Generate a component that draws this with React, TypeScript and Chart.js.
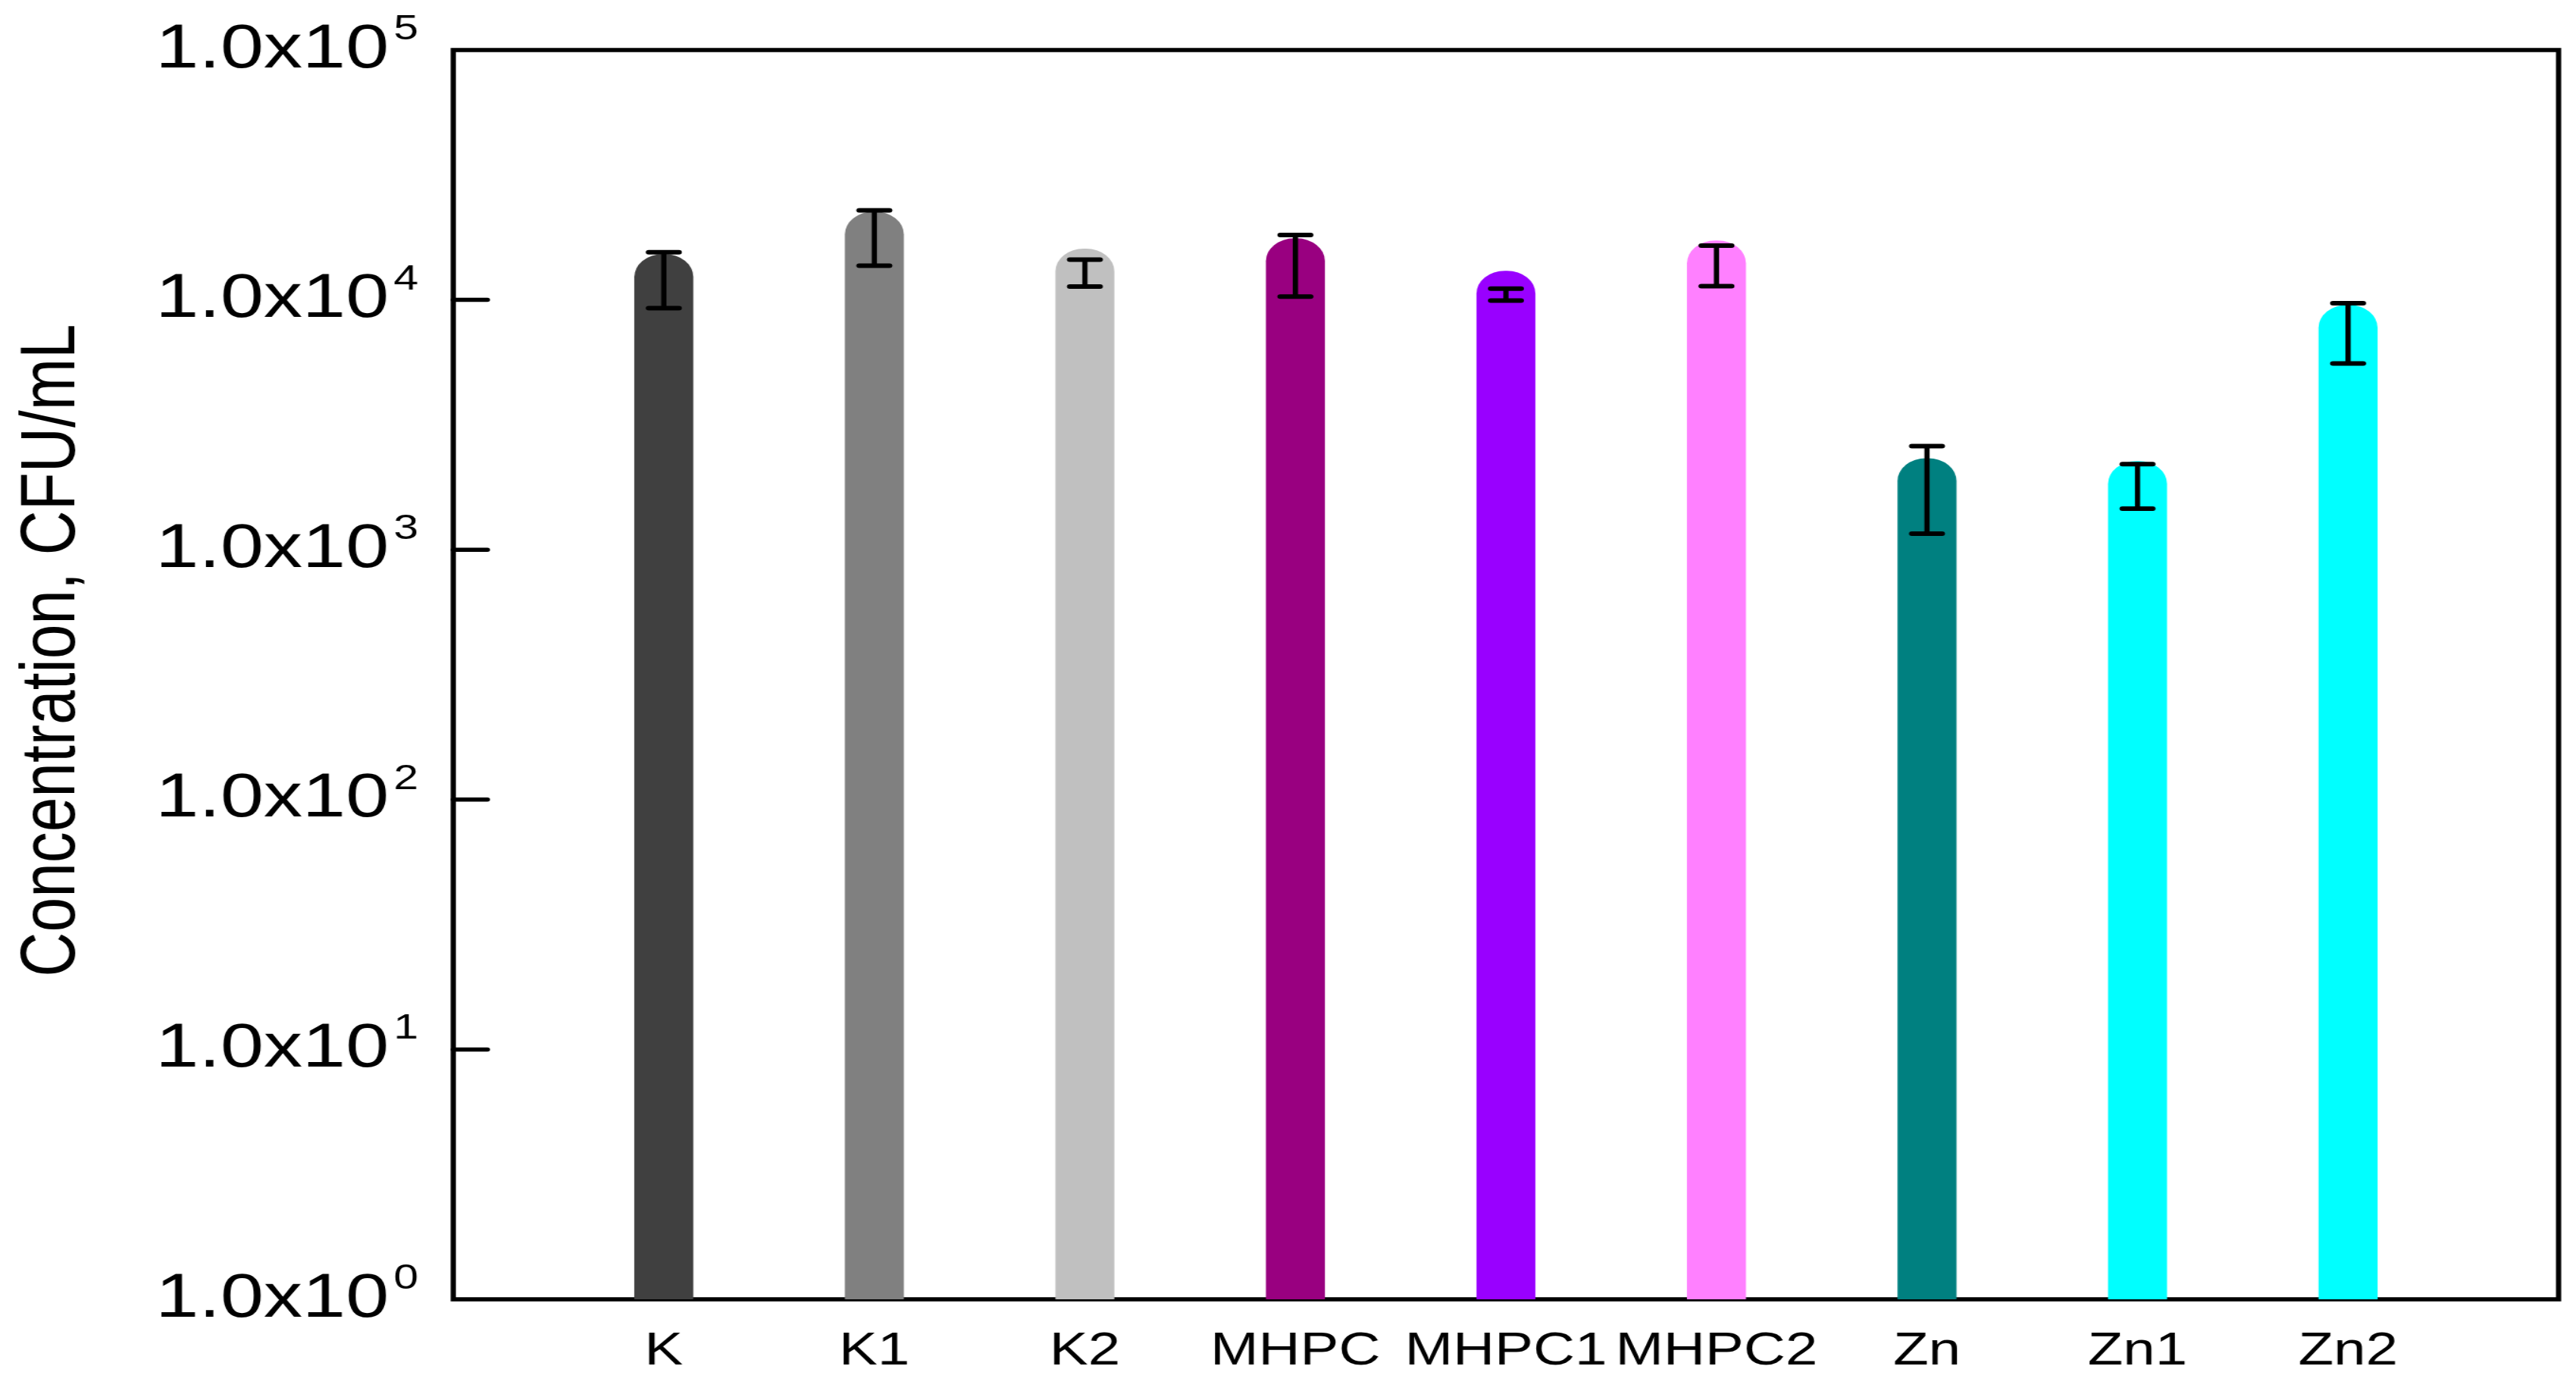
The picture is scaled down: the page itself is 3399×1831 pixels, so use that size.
import React, { useEffect, useRef } from 'react';
import { Chart, registerables } from 'chart.js';

Chart.register(...registerables);

// ---- data ----
const categories = ['K', 'K1', 'K2', 'MHPC', 'MHPC1', 'MHPC2', 'Zn', 'Zn1', 'Zn2'];
const barTops = [15200, 22500, 16000, 17600, 13050, 17250, 2320, 2260, 9520];
const errHigh = [15500, 22800, 14500, 18200, 11100, 16500, 2600, 2200, 9700];
const errLow = [9260, 13700, 11300, 10300, 9930, 11350, 1160, 1460, 5560];
const barColors = ['#404040', '#808080', '#c0c0c0', '#990080', '#9900ff', '#ff80ff', '#008080', '#00ffff', '#00ffff'];
const yTickValues = [1, 10, 100, 1000, 10000, 100000];
const yTickMantissa = '1.0x10';
const yTickExponents = ['0', '1', '2', '3', '4', '5'];
const yTitle = 'Concentration, CFU/mL';

// ---- layout / style ----
const FONT = "'Liberation Sans', Arial, Helvetica, sans-serif";
const CANVAS_W = 2706;
const CANVAS_H = 1815;
const DISPLAY_W = 3383;
const Y_AXIS_W = 472;
const X_AXIS_H = 109;
const LINE_W = 5.5;
const Y_LABEL_PAD = 68;

const decorPlugin = {
  id: 'decor',
  beforeDatasetsDraw(chart: any) {
    const { ctx, chartArea: a, scales } = chart;
    const y = scales.y;
    ctx.save();
    ctx.strokeStyle = '#000';
    ctx.lineWidth = LINE_W;
    ctx.strokeRect(a.left, a.top, a.right - a.left, a.bottom - a.top);
    ctx.lineCap = 'round';
    yTickValues.forEach((v) => {
      if (v <= y.min || v >= y.max) return;
      const py = y.getPixelForValue(v);
      ctx.beginPath();
      ctx.moveTo(a.left, py);
      ctx.lineTo(a.left + 36, py);
      ctx.stroke();
    });
    ctx.restore();
  },
  afterDatasetsDraw(chart: any) {
    const { ctx, scales } = chart;
    const y = scales.y;
    const meta = chart.getDatasetMeta(0);
    ctx.save();
    ctx.strokeStyle = '#000';
    categories.forEach((_, i) => {
      const el = meta.data[i + 1];
      if (!el) return;
      const x = el.x;
      const yh = y.getPixelForValue(errHigh[i]);
      const yl = y.getPixelForValue(errLow[i]);
      ctx.lineWidth = LINE_W;
      ctx.lineCap = 'butt';
      ctx.beginPath();
      ctx.moveTo(x, yh);
      ctx.lineTo(x, yl);
      ctx.stroke();
      ctx.lineWidth = 6;
      ctx.lineCap = 'round';
      [yh, yl].forEach((py) => {
        ctx.beginPath();
        ctx.moveTo(x - 16, py);
        ctx.lineTo(x + 16, py);
        ctx.stroke();
      });
    });
    ctx.restore();
  },
  afterDraw(chart: any) {
    const { ctx, chartArea: a, scales } = chart;
    const y = scales.y;
    ctx.save();
    ctx.fillStyle = '#000';
    // exponents of the tick labels
    ctx.font = `47px ${FONT}`;
    ctx.textAlign = 'left';
    ctx.textBaseline = 'alphabetic';
    yTickValues.forEach((v, i) => {
      const py = y.getPixelForValue(v);
      ctx.fillText(yTickExponents[i], a.left - Y_LABEL_PAD + 5, py - 14);
    });
    // axis title
    ctx.translate(72, 850);
    ctx.rotate(-Math.PI / 2);
    ctx.font = `82px ${FONT}`;
    ctx.textAlign = 'center';
    ctx.fillText(yTitle, 0, 0);
    ctx.restore();
  },
};

export default function App() {
  const canvasRef = useRef<HTMLCanvasElement | null>(null);

  useEffect(() => {
    const canvas = canvasRef.current;
    if (!canvas) return;
    const labels = ['', ...categories, ''];
    const data = [null, ...barTops, null];
    const colors = ['rgba(0,0,0,0)', ...barColors, 'rgba(0,0,0,0)'];
    const chart = new Chart(canvas, {
      type: 'bar',
      data: {
        labels,
        datasets: [
          {
            data: data as any,
            backgroundColor: colors,
            borderWidth: 0,
            barThickness: 61.6,
            borderRadius: { topLeft: 30, topRight: 30, bottomLeft: 0, bottomRight: 0 },
            borderSkipped: 'start',
          },
        ],
      },
      options: {
        responsive: false,
        animation: false,
        events: [],
        devicePixelRatio: 1,
        layout: { padding: { top: 58, right: 12, bottom: 0, left: 0 } },
        plugins: { legend: { display: false }, tooltip: { enabled: false }, title: { display: false } },
        scales: {
          x: {
            type: 'category',
            offset: false,
            grid: { display: false, drawTicks: false },
            border: { display: false },
            ticks: {
              autoSkip: false,
              maxRotation: 0,
              minRotation: 0,
              padding: 33,
              color: '#000',
              font: { family: FONT, size: 61 },
            },
            afterFit: (scale: any) => {
              scale.height = X_AXIS_H;
              scale.paddingLeft = 0;
              scale.paddingRight = 0;
              scale.paddingTop = 0;
              scale.paddingBottom = 0;
            },
          },
          y: {
            type: 'logarithmic',
            min: 1,
            max: 100000,
            grid: { display: false, drawTicks: false },
            border: { display: false },
            ticks: {
              autoSkip: false,
              padding: Y_LABEL_PAD,
              color: '#000',
              font: { family: FONT, size: 82 },
              callback: () => yTickMantissa,
            },
            afterBuildTicks: (scale: any) => {
              scale.ticks = yTickValues.map((v) => ({ value: v }));
            },
            afterFit: (scale: any) => {
              scale.width = Y_AXIS_W;
              scale.paddingTop = 0;
              scale.paddingBottom = 0;
              scale.paddingLeft = 0;
              scale.paddingRight = 0;
            },
          },
        },
      },
      plugins: [decorPlugin],
    });
    return () => chart.destroy();
  }, []);

  return (
    <div style={{ width: DISPLAY_W, height: CANVAS_H, overflow: 'hidden', background: '#fff' }}>
      <canvas
        ref={canvasRef}
        width={CANVAS_W}
        height={CANVAS_H}
        style={{ width: `${DISPLAY_W}px`, height: `${CANVAS_H}px`, display: 'block' }}
      />
    </div>
  );
}
